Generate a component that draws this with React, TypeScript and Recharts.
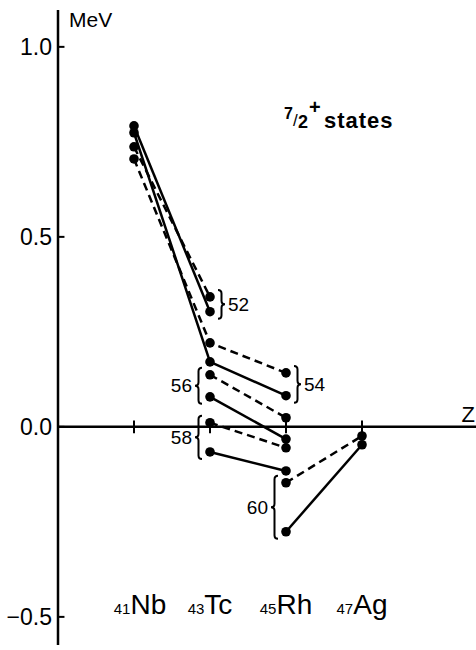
import React from 'react';
import {
  LineChart,
  Line,
  XAxis,
  YAxis,
  ReferenceLine,
  ReferenceDot,
  ReferenceArea,
} from 'recharts';

// proton number and element on the horizontal axis
const protonZ = [41, 43, 45, 47];
const elementSymbols = ['Nb', 'Tc', 'Rh', 'Ag'];
const yTicks = [-0.5, 0, 0.5, 1.0];

// Z values walked by each isotone chain
const zNbTc = [41, 43];
const zNbTcRh = [41, 43, 45];
const zTcRh = [43, 45];
const zRhAg = [45, 47];

// 7/2+ energies (MeV), dashed = one set, solid = the other
const n52Dashed = [0.737, 0.342];
const n52Solid = [0.792, 0.303];
const n54Dashed = [0.705, 0.221, 0.142];
const n54Solid = [0.774, 0.171, 0.082];
const n56Dashed = [0.137, 0.024];
const n56Solid = [0.079, -0.032];
const n58Dashed = [0.011, -0.055];
const n58Solid = [-0.066, -0.116];
const n60Dashed = [-0.147, -0.024];
const n60Solid = [-0.276, -0.047];

// brace labels: neutron number, at which Z, which side
const braceLabels = ['52', '54', '56', '58', '60'];
const braceZ = [43, 45, 43, 43, 45];
const braceSide = ['right', 'right', 'left', 'left', 'left'];
const bracePairs = [
  [n52Dashed[1], n52Solid[1]],
  [n54Dashed[2], n54Solid[2]],
  [n56Dashed[0], n56Solid[0]],
  [n58Dashed[0], n58Solid[0]],
  [n60Dashed[0], n60Solid[0]],
];

const series = [
  { key: 'n52d', z: zNbTc, e: n52Dashed, dashed: true },
  { key: 'n52s', z: zNbTc, e: n52Solid, dashed: false },
  { key: 'n54d', z: zNbTcRh, e: n54Dashed, dashed: true },
  { key: 'n54s', z: zNbTcRh, e: n54Solid, dashed: false },
  { key: 'n56d', z: zTcRh, e: n56Dashed, dashed: true },
  { key: 'n56s', z: zTcRh, e: n56Solid, dashed: false },
  { key: 'n58d', z: zTcRh, e: n58Dashed, dashed: true },
  { key: 'n58s', z: zTcRh, e: n58Solid, dashed: false },
  { key: 'n60d', z: zRhAg, e: n60Dashed, dashed: true },
  { key: 'n60s', z: zRhAg, e: n60Solid, dashed: false },
].map((s) => ({ ...s, data: s.z.map((z, i) => ({ z, e: s.e[i] })) }));

const FONT = '"Liberation Sans", Arial, sans-serif';

function bracePath(x0: number, y1: number, y2: number, d: number) {
  const w = 7;
  const h = 3.5;
  const m = (y1 + y2) / 2;
  return [
    `M${x0},${y1}`,
    `Q${x0 + d * h},${y1} ${x0 + d * h},${y1 + h}`,
    `L${x0 + d * h},${m - h}`,
    `Q${x0 + d * h},${m} ${x0 + d * w},${m}`,
    `Q${x0 + d * h},${m} ${x0 + d * h},${m + h}`,
    `L${x0 + d * h},${y2 - h}`,
    `Q${x0 + d * h},${y2} ${x0},${y2}`,
  ].join(' ');
}

export default function App() {
  return (
    <div style={{ position: 'absolute', left: 0, top: 0, width: 476, height: 650, background: '#fff' }}>
      <LineChart width={476} height={650} margin={{ top: 10, right: 0, left: 0, bottom: 5 }}>
        <XAxis type="number" dataKey="z" domain={[39, 50]} allowDataOverflow hide />
        <YAxis
          type="number"
          domain={[-0.574, 1.097]}
          allowDataOverflow
          ticks={yTicks}
          width={58}
          tickLine={false}
          tickSize={0}
          tickMargin={6}
          axisLine={{ stroke: '#000', strokeWidth: 2.5 }}
          tick={{ fill: '#000', fontSize: 23, fontFamily: FONT }}
          tickFormatter={(v: number) => (v < 0 ? '\u2212' + Math.abs(v).toFixed(1) : v.toFixed(1))}
        />

        <ReferenceLine y={0} stroke="#000" strokeWidth={2.5} />
        {protonZ.map((z) => (
          <ReferenceLine
            key={'xt' + z}
            segment={[{ x: z, y: -0.017 }, { x: z, y: 0.017 }]}
            stroke="#000"
            strokeWidth={2}
          />
        ))}
        {yTicks.map((v) => (
          <ReferenceLine
            key={'yt' + v}
            segment={[{ x: 39, y: v }, { x: 39.17, y: v }]}
            stroke="#000"
            strokeWidth={2}
          />
        ))}

        {braceLabels.map((lab, i) => {
          const lo = Math.min(...bracePairs[i]);
          const hi = Math.max(...bracePairs[i]);
          const d = braceSide[i] === 'right' ? 1 : -1;
          return (
            <ReferenceArea
              key={'br' + lab}
              x1={braceZ[i] - 0.5}
              x2={braceZ[i] + 0.5}
              y1={lo}
              y2={hi}
              shape={(p: any) => {
                const cx = p.x + p.width / 2;
                const top = p.y - 7;
                const bot = p.y + p.height + 7;
                const mid = (top + bot) / 2;
                return (
                  <g>
                    <path d={bracePath(cx + d * 8, top, bot, d)} fill="none" stroke="#000" strokeWidth={2} />
                    <text
                      x={cx + d * 18}
                      y={mid}
                      textAnchor={d > 0 ? 'start' : 'end'}
                      dominantBaseline="central"
                      fontSize={19}
                      fontFamily={FONT}
                      fill="#000"
                    >
                      {lab}
                    </text>
                  </g>
                );
              }}
            />
          );
        })}

        {series.map((s) => (
          <Line
            key={s.key}
            data={s.data}
            dataKey="e"
            type="linear"
            stroke="#000"
            strokeWidth={2.5}
            strokeDasharray={s.dashed ? '8 5' : undefined}
            dot={{ r: 4.8, fill: '#000', stroke: '#000', strokeWidth: 0 }}
            activeDot={false}
            isAnimationActive={false}
          />
        ))}

        {protonZ.map((z, i) => (
          <ReferenceDot
            key={'el' + z}
            x={z}
            y={-0.5}
            shape={(p: any) => (
              <text x={p.cx + (i === 0 ? 6 : 0)} y={p.cy - 3} textAnchor="middle" fontFamily={FONT} fill="#000">
                <tspan fontSize={15}>{z}</tspan>
                <tspan fontSize={28}>{elementSymbols[i]}</tspan>
              </text>
            )}
          />
        ))}

        <ReferenceDot
          x={39}
          y={1.097}
          shape={(p: any) => (
            <text x={p.cx + 11} y={p.cy + 17} fontSize={21} fontFamily={FONT} fill="#000">
              MeV
            </text>
          )}
        />
        <ReferenceDot
          x={50}
          y={0}
          shape={(p: any) => (
            <text x={p.cx - 1} y={p.cy - 5} textAnchor="end" fontSize={22} fontFamily={FONT} fill="#000">
              Z
            </text>
          )}
        />
        <ReferenceDot
          x={45}
          y={0.79}
          shape={(p: any) => (
            <g fontFamily={FONT} fill="#000" fontWeight="bold">
              <text x={p.cx - 2} y={p.cy - 8} fontSize={16}>7</text>
              <text x={p.cx + 7} y={p.cy - 1} fontSize={17} fontWeight="normal">/</text>
              <text x={p.cx + 12} y={p.cy + 1} fontSize={18}>2</text>
              <text x={p.cx + 23} y={p.cy - 13} fontSize={20}>+</text>
              <text x={p.cx + 38} y={p.cy + 1} fontSize={22} letterSpacing={1}>states</text>
            </g>
          )}
        />
      </LineChart>
    </div>
  );
}
